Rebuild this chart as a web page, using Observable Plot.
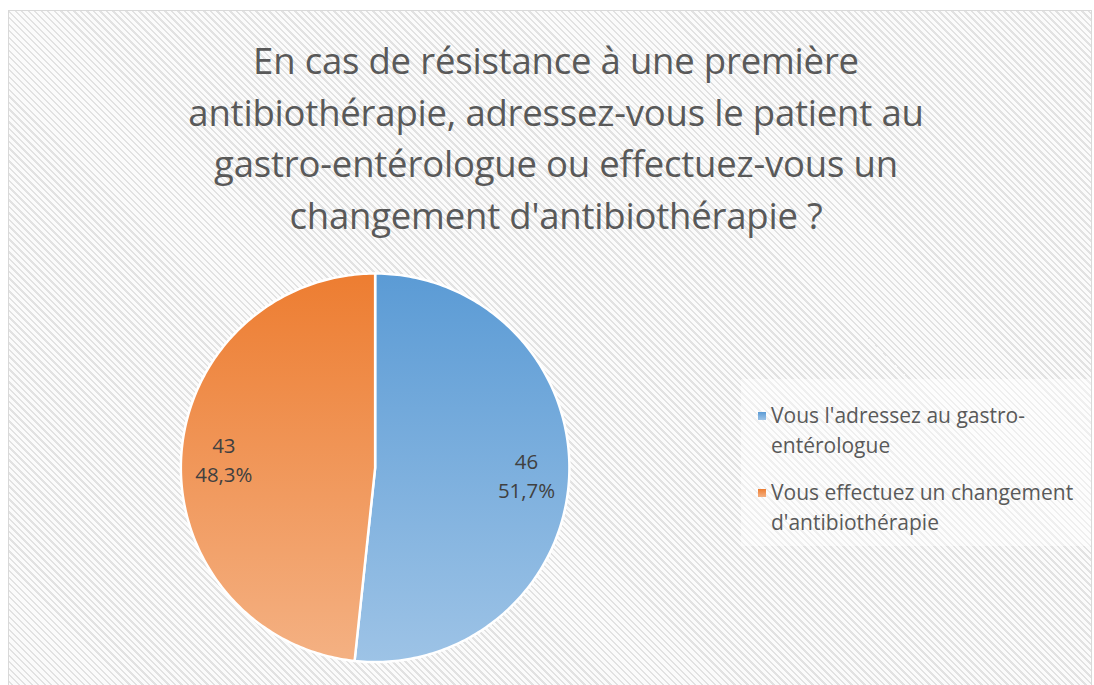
<!DOCTYPE html>
<html>
<head>
<meta charset="utf-8">
<script src="https://cdn.jsdelivr.net/npm/d3@7"></script>
<script src="https://cdn.jsdelivr.net/npm/@observablehq/plot@0.6"></script>
<style>
  html, body { margin: 0; padding: 0; background: #ffffff; }
  #frame {
    position: absolute; left: 8px; top: 10px; width: 1084px; height: 680px;
    box-sizing: border-box; border: 1.5px solid #d9d9d9;
    background: repeating-linear-gradient(45deg, #e2e2e2 0px, #e2e2e2 1.7px, #fbfbfb 1.7px, #fbfbfb 4.6px);
    overflow: hidden;
  }
  #title {
    position: absolute; left: 47px; top: 24px; width: 1000px; text-align: center;
    font-family: "Open Sans", sans-serif; font-size: 36.5px; line-height: 51.7px; color: #595959;
    letter-spacing: -0.2px; white-space: nowrap;
  }
  #chart { position: absolute; left: -8px; top: -10px; }
  #legend {
    position: absolute; left: 732px; top: 368px; width: 350px; height: 167px;
    background: rgba(255,255,255,0.45);
    font-family: "Open Sans", sans-serif; font-size: 21px; line-height: 29.5px; color: #595959;
    white-space: nowrap;
  }
  .item { position: absolute; left: 30px; }
  .sw { position: absolute; left: -13px; top: 11px; width: 8px; height: 8px; }
</style>
</head>
<body>
<div id="frame">
  <div id="chart"></div>
  <div id="title"></div>
  <div id="legend"></div>
</div>
<script>
const titleLines = [
  "En cas de résistance à une première",
  "antibiothérapie, adressez-vous le patient au",
  "gastro-entérologue ou effectuez-vous un",
  "changement d'antibiothérapie ?"
];
const categories = [
  "Vous l'adressez au gastro-entérologue",
  "Vous effectuez un changement d'antibiothérapie"
];
const legendLines = [
  ["Vous l'adressez au gastro-", "entérologue"],
  ["Vous effectuez un changement", "d'antibiothérapie"]
];
const counts = [46, 43];
const percentLabels = ["51,7%", "48,3%"];
const gradTop = ["#5b9bd5", "#ed7d31"];
const gradBottom = ["#9dc3e6", "#f4b183"];

document.getElementById("title").innerHTML = titleLines.map(s => `<div>${s}</div>`).join("");

// pie geometry (unit circle), angles from d3.pie: 0 at 12 o'clock, clockwise
const arcs = d3.pie().sort(null)(counts);
const slices = arcs.map((a, i) => {
  const pts = [{x: 0, y: 0}];
  const n = 200;
  for (let k = 0; k <= n; k++) {
    const t = a.startAngle + (a.endAngle - a.startAngle) * k / n;
    pts.push({x: Math.sin(t), y: Math.cos(t)});
  }
  pts.push({x: 0, y: 0});
  return pts;
});
const labelR = 0.78;
const labels = arcs.map((a, i) => {
  const m = (a.startAngle + a.endAngle) / 2;
  return {x: labelR * Math.sin(m), y: labelR * Math.cos(m), text: `${counts[i]}\n${percentLabels[i]}`};
});

const cx = 375, cy = 468, r = 195;
const svg = Plot.plot({
  width: 1094, height: 685, margin: 0,
  style: {background: "transparent", overflow: "visible"},
  x: {domain: [-1, 1], range: [cx - r, cx + r], axis: null},
  y: {domain: [-1, 1], range: [cy + r, cy - r], axis: null},
  marks: [
    ...slices.map((pts, i) => Plot.line(pts, {
      x: "x", y: "y", fill: `url(#grad${i})`, stroke: "white", strokeWidth: 2.5,
      strokeLinejoin: "round", curve: "linear"
    })),
    Plot.text(labels, {
      x: "x", y: "y", text: "text", fontSize: 20.5, fill: "#404040", lineHeight: 1.42,
      fontFamily: "Open Sans", dy: -2
    })
  ]
});
const ns = "http://www.w3.org/2000/svg";
const defs = document.createElementNS(ns, "defs");
gradTop.forEach((c, i) => {
  const g = document.createElementNS(ns, "linearGradient");
  g.setAttribute("id", `grad${i}`);
  g.setAttribute("gradientUnits", "userSpaceOnUse");
  g.setAttribute("x1", 0); g.setAttribute("x2", 0);
  g.setAttribute("y1", cy - r); g.setAttribute("y2", cy + r);
  [[0, c], [1, gradBottom[i]]].forEach(([o, col]) => {
    const s = document.createElementNS(ns, "stop");
    s.setAttribute("offset", o); s.setAttribute("stop-color", col);
    g.appendChild(s);
  });
  defs.appendChild(g);
});
svg.insertBefore(defs, svg.firstChild);
document.getElementById("chart").appendChild(svg);

// legend
const legend = document.getElementById("legend");
const itemTops = [22, 99];
categories.forEach((c, i) => {
  const it = document.createElement("div");
  it.className = "item";
  it.style.top = itemTops[i] + "px";
  it.title = c;
  it.innerHTML = `<div class="sw" style="background:linear-gradient(${gradTop[i]},${gradBottom[i]})"></div>` +
    legendLines[i].map(s => `<div>${s}</div>`).join("");
  legend.appendChild(it);
});
</script>
</body>
</html>
